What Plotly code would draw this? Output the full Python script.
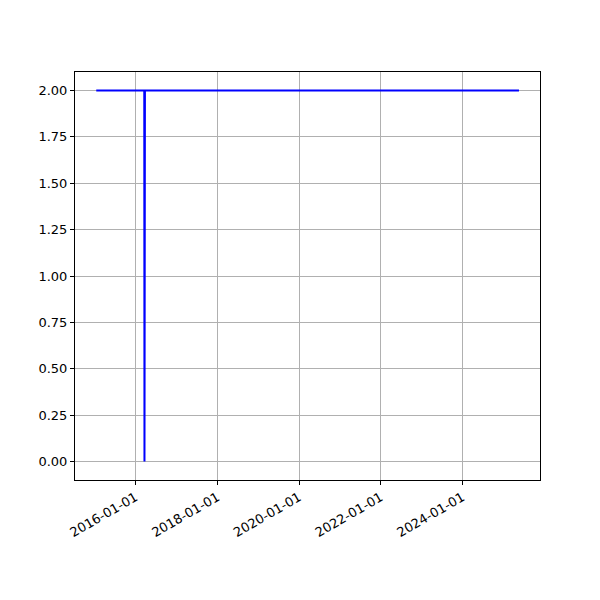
import plotly.graph_objects as go

dates = ["2015-01-15", "2016-03-19", "2016-03-21", "2016-03-23", "2016-03-25", "2025-05-20"]
values = [2, 2, 0, 1, 2, 2]

x_ticks = ["2016-01-01", "2018-01-01", "2020-01-01", "2022-01-01", "2024-01-01"]

fig = go.Figure()
fig.add_trace(go.Scatter(x=dates, y=values, mode="lines",
                         line=dict(color="#0000ff", width=2), showlegend=False))

axis_common = dict(showline=True, linecolor="black", linewidth=1, mirror=True,
                   ticks="outside", ticklen=4, tickcolor="black",
                   showgrid=True, gridcolor="#b0b0b0", gridwidth=0.8,
                   zeroline=False, automargin=False,
                   tickfont=dict(family="DejaVu Sans", size=13, color="black"))

fig.update_xaxes(range=["2014-07-09", "2025-11-24"], tickvals=x_ticks, ticktext=x_ticks,
                 tickangle=-30, **axis_common)
fig.update_yaxes(range=[-0.1, 2.1], tickvals=[0, 0.25, 0.5, 0.75, 1.0, 1.25, 1.5, 1.75, 2.0],
                 tickformat=".2f", **axis_common)

fig.update_layout(width=600, height=600, plot_bgcolor="white", paper_bgcolor="white",
                  margin=dict(l=67, r=68, t=64, b=128))

fig.write_html("out.html")
